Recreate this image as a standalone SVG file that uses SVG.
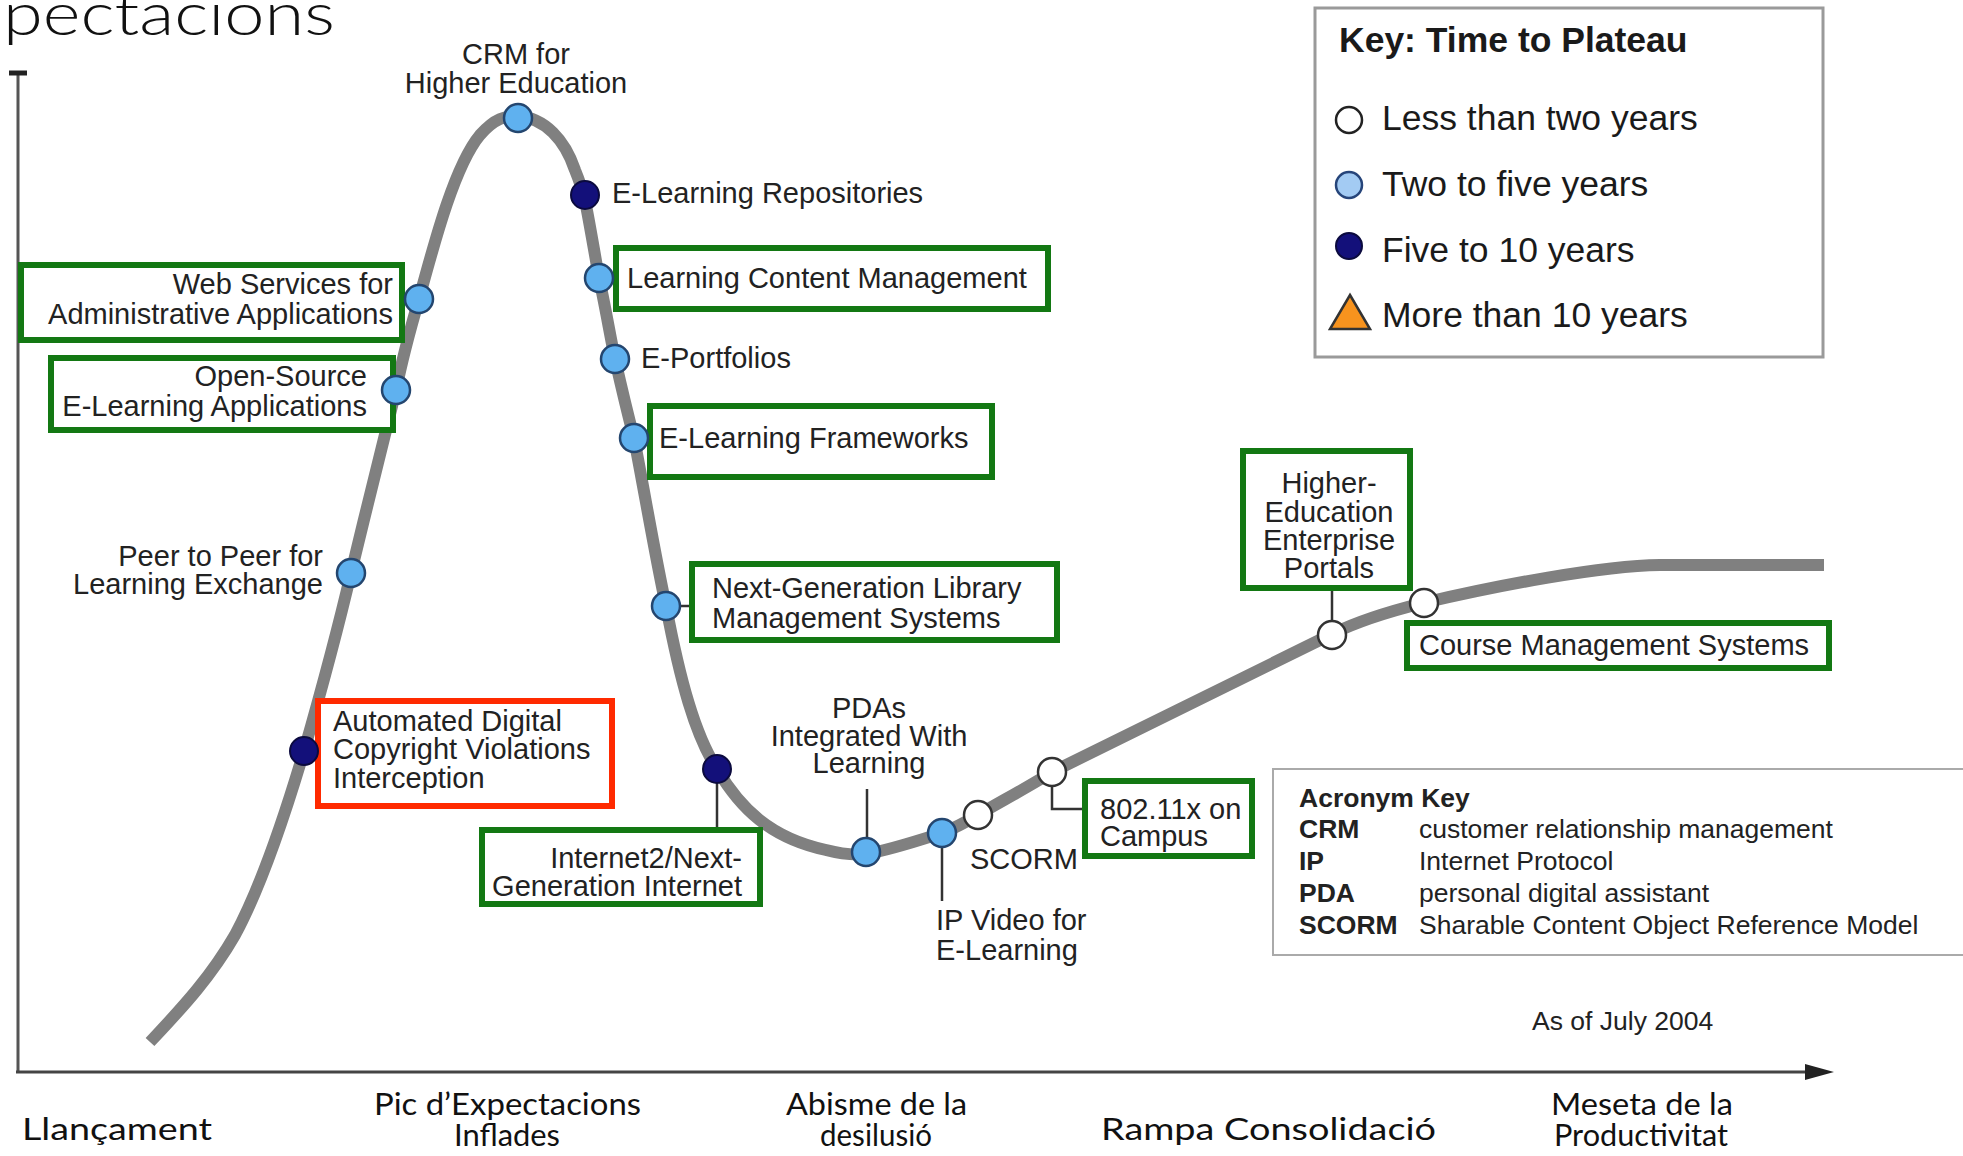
<svg xmlns="http://www.w3.org/2000/svg" width="1963" height="1156" viewBox="0 0 1963 1156">
<style>
.lbl{font-family:"Liberation Sans",Arial,sans-serif;font-size:29px;fill:#222}
.key{font-family:"Liberation Sans",Arial,sans-serif;font-size:35.5px;fill:#1a1a1a}
.acr{font-family:"Liberation Sans",Arial,sans-serif;font-size:26.5px;fill:#222}
.b{font-weight:bold}
.gb{fill:#fff;stroke:#137813;stroke-width:6}
.rb{fill:#fff;stroke:#ff2a00;stroke-width:6}
.lb{fill:#5fb1ef;stroke:#24466f;stroke-width:2.5}
.db{fill:#13107a;stroke:#0b0a3e;stroke-width:2}
.wh{fill:#fff;stroke:#333;stroke-width:2.5}
.ph{font-family:"Lato","Open Sans",sans-serif;font-size:30px;fill:#111}
.conn{stroke:#333;stroke-width:2.5;fill:none}
</style>
<rect width="1963" height="1156" fill="#fff"/>

<!-- title fragment -->
<text x="3" y="35" font-family="Lato,'Open Sans',sans-serif" font-size="60" font-weight="300" fill="#111" textLength="332" lengthAdjust="spacingAndGlyphs">pectacions</text>

<!-- axes -->
<g id="axes">
<line x1="18" y1="72" x2="18" y2="1072" stroke="#555" stroke-width="3"/>
<line x1="9" y1="73" x2="27" y2="73" stroke="#222" stroke-width="5"/>
<line x1="16" y1="1072" x2="1808" y2="1072" stroke="#444" stroke-width="3"/>
<path d="M1805,1064 L1834,1072 L1805,1080 z" fill="#222"/>
</g>

<!-- hype curve -->
<path id="curve" d="M150,1042 C185,1005 212,975 235,935 C262,885 285,815 304,751 C320,695 340,620 351,573 C366,510 384,440 396,390 C402,360 410,330 419,299 C435,240 455,165 480,135 C495,118 505,116 518,116 C545,118 565,140 575,170 C580,182 582,190 584,195 C590,225 594,250 599,278 C605,305 610,335 615,359 C622,390 628,415 634,438 C645,495 655,555 666,606 C680,680 695,735 717,769 C740,808 770,838 826,850 C845,855 855,855 866,854 C890,850 920,840 942,833 C955,828 966,822 978,815 C1000,802 1030,786 1052,772 L1332,634 C1360,620 1395,610 1423,603 C1500,585 1600,566 1660,565 L1824,565" fill="none" stroke="#808080" stroke-width="12" stroke-linecap="butt"/>

<!-- connectors -->
<g id="connectors">
<line class="conn" x1="666" y1="606" x2="692" y2="606"/>
<line class="conn" x1="717" y1="781" x2="717" y2="830"/>
<line class="conn" x1="867" y1="789" x2="867" y2="840"/>
<line class="conn" x1="942" y1="845" x2="942" y2="901"/>
<polyline class="conn" points="1052,784 1052,809 1085,809"/>
<line class="conn" x1="1332" y1="588" x2="1332" y2="621"/>
</g>

<!-- nodes -->
<g id="n-crm">
<text class="lbl" x="516" y="64" text-anchor="middle">CRM for</text>
<text class="lbl" x="516" y="93" text-anchor="middle">Higher Education</text>
<circle class="lb" cx="518" cy="118" r="14"/>
</g>
<g id="n-repo">
<circle class="db" cx="585" cy="195" r="14"/>
<text class="lbl" x="612" y="203">E-Learning Repositories</text>
</g>
<g id="n-lcm">
<rect class="gb" x="616" y="248" width="432" height="61"/>
<text class="lbl" x="627" y="288">Learning Content Management</text>
<circle class="lb" cx="599" cy="278" r="14"/>
</g>
<g id="n-eport">
<circle class="lb" cx="615" cy="359" r="14"/>
<text class="lbl" x="641" y="368">E-Portfolios</text>
</g>
<g id="n-elf">
<rect class="gb" x="650" y="406" width="342" height="71"/>
<text class="lbl" x="659" y="448">E-Learning Frameworks</text>
<circle class="lb" cx="634" cy="438" r="14"/>
</g>
<g id="n-web">
<rect class="gb" x="21" y="265" width="381" height="75"/>
<text class="lbl" x="393" y="294" text-anchor="end">Web Services for</text>
<text class="lbl" x="393" y="324" text-anchor="end">Administrative Applications</text>
<circle class="lb" cx="419" cy="299" r="14"/>
</g>
<g id="n-os">
<rect class="gb" x="51" y="358" width="342" height="72"/>
<text class="lbl" x="367" y="386" text-anchor="end">Open-Source</text>
<text class="lbl" x="367" y="416" text-anchor="end">E-Learning Applications</text>
<circle class="lb" cx="396" cy="390" r="14"/>
</g>
<g id="n-p2p">
<text class="lbl" x="323" y="566" text-anchor="end">Peer to Peer for</text>
<text class="lbl" x="323" y="594" text-anchor="end">Learning Exchange</text>
<circle class="lb" cx="351" cy="573" r="14"/>
</g>
<g id="n-adc">
<rect class="rb" x="318" y="701" width="294" height="105"/>
<text class="lbl" x="333" y="731">Automated Digital</text>
<text class="lbl" x="333" y="759">Copyright Violations</text>
<text class="lbl" x="333" y="788">Interception</text>
<circle class="db" cx="304" cy="751" r="14"/>
</g>
<g id="n-ngl">
<rect class="gb" x="692" y="564" width="365" height="76"/>
<text class="lbl" x="712" y="598">Next-Generation Library</text>
<text class="lbl" x="712" y="628">Management Systems</text>
<circle class="lb" cx="666" cy="606" r="14"/>
</g>
<g id="n-i2">
<rect class="gb" x="482" y="830" width="278" height="74"/>
<text class="lbl" x="742" y="868" text-anchor="end">Internet2/Next-</text>
<text class="lbl" x="742" y="896" text-anchor="end">Generation Internet</text>
<circle class="db" cx="717" cy="769" r="14"/>
</g>
<g id="n-pda">
<text class="lbl" x="869" y="718" text-anchor="middle">PDAs</text>
<text class="lbl" x="869" y="746" text-anchor="middle">Integrated With</text>
<text class="lbl" x="869" y="773" text-anchor="middle">Learning</text>
<circle class="lb" cx="866" cy="852" r="14"/>
</g>
<g id="n-ipv">
<circle class="lb" cx="942" cy="833" r="14"/>
<text class="lbl" x="936" y="930">IP Video for</text>
<text class="lbl" x="936" y="960">E-Learning</text>
</g>
<g id="n-scorm">
<circle class="wh" cx="978" cy="815" r="14"/>
<text class="lbl" x="970" y="869">SCORM</text>
</g>
<g id="n-802">
<circle class="wh" cx="1052" cy="772" r="14"/>
<rect class="gb" x="1085" y="781" width="167" height="75"/>
<text class="lbl" x="1100" y="819">802.11x on</text>
<text class="lbl" x="1100" y="846">Campus</text>
</g>
<g id="n-heep">
<rect class="gb" x="1243" y="451" width="167" height="137"/>
<text class="lbl" x="1329" y="493" text-anchor="middle">Higher-</text>
<text class="lbl" x="1329" y="522" text-anchor="middle">Education</text>
<text class="lbl" x="1329" y="550" text-anchor="middle">Enterprise</text>
<text class="lbl" x="1329" y="578" text-anchor="middle">Portals</text>
<circle class="wh" cx="1332" cy="635" r="14"/>
</g>
<g id="n-cms">
<rect class="gb" x="1407" y="623" width="422" height="45"/>
<text class="lbl" x="1419" y="655">Course Management Systems</text>
<circle class="wh" cx="1424" cy="603" r="14"/>
</g>

<!-- key -->
<g id="key">
<rect x="1315" y="8" width="508" height="349" fill="#fff" stroke="#9a9a9a" stroke-width="3"/>
<text class="key b" x="1339" y="52">Key: Time to Plateau</text>
<circle cx="1349" cy="120" r="13" fill="#fff" stroke="#222" stroke-width="2.5"/>
<text class="key" x="1382" y="130">Less than two years</text>
<circle cx="1349" cy="185" r="13" fill="#a3cbf3" stroke="#26457a" stroke-width="2.5"/>
<text class="key" x="1382" y="196">Two to five years</text>
<circle cx="1349" cy="246" r="13" fill="#13107a" stroke="#0b0a3e" stroke-width="2"/>
<text class="key" x="1382" y="262">Five to 10 years</text>
<path d="M1350,295 L1370,329 L1330,329 z" fill="#f7931e" stroke="#333" stroke-width="2.5"/>
<text class="key" x="1382" y="327">More than 10 years</text>
</g>

<!-- acronym key -->
<g id="acronyms">
<rect x="1273" y="769" width="700" height="186" fill="#fff" stroke="#aaa" stroke-width="2"/>
<text class="acr b" x="1299" y="807">Acronym Key</text>
<text class="acr b" x="1299" y="838">CRM</text>
<text class="acr" x="1419" y="838">customer relationship management</text>
<text class="acr b" x="1299" y="870">IP</text>
<text class="acr" x="1419" y="870">Internet Protocol</text>
<text class="acr b" x="1299" y="902">PDA</text>
<text class="acr" x="1419" y="902">personal digital assistant</text>
<text class="acr b" x="1299" y="934">SCORM</text>
<text class="acr" x="1419" y="934">Sharable Content Object Reference Model</text>
</g>
<text class="acr" x="1532" y="1030">As of July 2004</text>

<!-- phase labels -->
<g id="phases">
<text class="ph" x="22" y="1140" textLength="190" lengthAdjust="spacingAndGlyphs">Llançament</text>
<text class="ph" x="374" y="1115" textLength="267" lengthAdjust="spacingAndGlyphs">Pic d’Expectacions</text>
<text class="ph" x="454" y="1146" textLength="106" lengthAdjust="spacingAndGlyphs">Inflades</text>
<text class="ph" x="786" y="1115" textLength="181" lengthAdjust="spacingAndGlyphs">Abisme de la</text>
<text class="ph" x="820" y="1146" textLength="112" lengthAdjust="spacingAndGlyphs">desilusió</text>
<text class="ph" x="1101" y="1140" textLength="335" lengthAdjust="spacingAndGlyphs">Rampa Consolidació</text>
<text class="ph" x="1551" y="1115" textLength="182" lengthAdjust="spacingAndGlyphs">Meseta de la</text>
<text class="ph" x="1554" y="1146" textLength="174" lengthAdjust="spacingAndGlyphs">Productivitat</text>
</g>
</svg>
